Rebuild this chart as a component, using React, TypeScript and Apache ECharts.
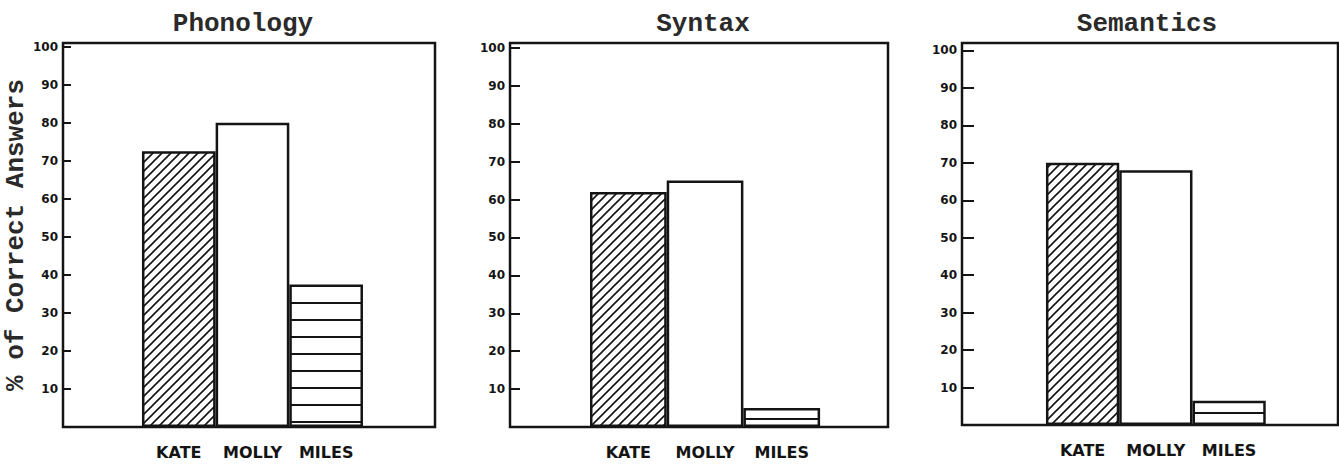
import React, { useEffect, useRef } from 'react';
import * as echarts from 'echarts';

// ---- data ----
const panelTitles = ['Phonology', 'Syntax', 'Semantics'];
const students = ['KATE', 'MOLLY', 'MILES'];
const phonologyScores = [72.5, 80, 37.5];
const syntaxScores = [62, 65, 5];
const semanticsScores = [70, 68, 6.5];
const yTickStep = 10;
const yAxisTitle = '% of Correct Answers';

const panelScores = [phonologyScores, syntaxScores, semanticsScores];

// ---- layout (positions / styles only) ----
const layouts = [
  { frame: [63, 43, 435, 427], gridLeft: 68.3, slot: 73.67, max: 101, tick: 8, titleX: 238, stripeOffset: 14 },
  { frame: [510, 43, 888, 427], gridLeft: 513.3, slot: 76.7, max: 101.3, tick: 10, titleX: 698, stripeOffset: 11 },
  { frame: [962, 43, 1338, 425], gridLeft: 972.7, slot: 74.3, max: 102, tick: 12, titleX: 1142, stripeOffset: 5 },
];

const INK = '#141414';
const TYPE_FONT = '"Liberation Mono", "Courier New", monospace';
const HAND_FONT = '"DejaVu Sans", sans-serif';

function hatchPattern(size: number) {
  const c = document.createElement('canvas');
  c.width = size;
  c.height = size;
  const ctx = c.getContext('2d')!;
  ctx.fillStyle = '#fff';
  ctx.fillRect(0, 0, size, size);
  ctx.strokeStyle = INK;
  ctx.lineWidth = 1.6;
  ctx.beginPath();
  ctx.moveTo(-2, size + 2);
  ctx.lineTo(size + 2, -2);
  ctx.moveTo(-2, 2);
  ctx.lineTo(2, -2);
  ctx.moveTo(size - 2, size + 2);
  ctx.lineTo(size + 2, size - 2);
  ctx.stroke();
  return { image: c, repeat: 'repeat', imageWidth: size, imageHeight: size } as any;
}

function stripePattern(period: number, offset: number) {
  const c = document.createElement('canvas');
  c.width = 4;
  c.height = period;
  const ctx = c.getContext('2d')!;
  ctx.fillStyle = '#fff';
  ctx.fillRect(0, 0, 4, period);
  ctx.fillStyle = INK;
  ctx.fillRect(0, offset - 1, 4, 2);
  return { image: c, repeat: 'repeat', imageWidth: 4, imageHeight: period } as any;
}

export default function App() {
  const ref = useRef<HTMLDivElement>(null);

  useEffect(() => {
    if (!ref.current) return;
    const chart = echarts.init(ref.current, undefined, { renderer: 'svg' });
    const hatch = hatchPattern(9);

    const grid = layouts.map((l) => ({
      left: l.gridLeft,
      top: l.frame[1],
      width: l.slot * 5,
      height: l.frame[3] - l.frame[1],
      containLabel: false,
    }));

    const xAxis = layouts.map((l, i) => ({
      type: 'category',
      gridIndex: i,
      data: ['', ...students, ''],
      axisLine: { show: false },
      axisTick: { show: false },
      axisLabel: {
        interval: 0,
        margin: 17,
        fontFamily: HAND_FONT,
        fontSize: 16,
        fontWeight: 'bold',
        color: INK,
      },
      splitLine: { show: false },
    }));

    const yAxis = layouts.map((l, i) => ({
      type: 'value',
      gridIndex: i,
      min: 0,
      max: l.max,
      interval: yTickStep,
      offset: l.gridLeft - l.frame[0],
      axisLine: { show: false },
      axisTick: { show: true, inside: true, length: l.tick, lineStyle: { color: INK, width: 2 } },
      axisLabel: {
        margin: 5,
        fontFamily: HAND_FONT,
        fontSize: 12,
        fontWeight: 'bold',
        color: INK,
        formatter: (v: number) => (v > 0 && v % yTickStep === 0 ? String(v) : ''),
      },
      splitLine: { show: false },
      ...(i === 0
        ? {
            name: yAxisTitle,
            nameLocation: 'middle',
            nameGap: 34,
            nameRotate: 90,
            nameTextStyle: { fontFamily: TYPE_FONT, fontSize: 26, fontWeight: 'bold', color: '#2a2a2a' },
          }
        : {}),
    }));

    const series = layouts.map((l, i) => {
      const scores = panelScores[i];
      const fills = [hatch, '#fff', stripePattern(17, l.stripeOffset)];
      return {
        type: 'bar',
        xAxisIndex: i,
        yAxisIndex: i,
        barWidth: '100%',
        data: [
          '-',
          ...scores.map((v, k) => ({
            value: v,
            itemStyle: { color: fills[k], borderColor: INK, borderWidth: 2.5 },
          })),
          '-',
        ],
      };
    });

    const graphic = layouts.map((l) => ({
      type: 'rect',
      z: 100,
      shape: { x: l.frame[0], y: l.frame[1], width: l.frame[2] - l.frame[0], height: l.frame[3] - l.frame[1] },
      style: { fill: 'none', stroke: INK, lineWidth: 2.5 },
    }));

    chart.setOption({
      animation: false,
      backgroundColor: '#fff',
      title: layouts.map((l, i) => ({
        text: panelTitles[i],
        left: l.titleX,
        top: 6,
        textAlign: 'center',
        textStyle: { fontFamily: TYPE_FONT, fontSize: 26, fontWeight: 'bold', color: '#2a2a2a' },
      })),
      grid,
      xAxis,
      yAxis,
      series,
      graphic,
    } as any);

    return () => chart.dispose();
  }, []);

  return (
    <div
      ref={ref}
      style={{ position: 'absolute', left: 0, top: 0, width: 1339, height: 467, background: '#fff' }}
    />
  );
}
